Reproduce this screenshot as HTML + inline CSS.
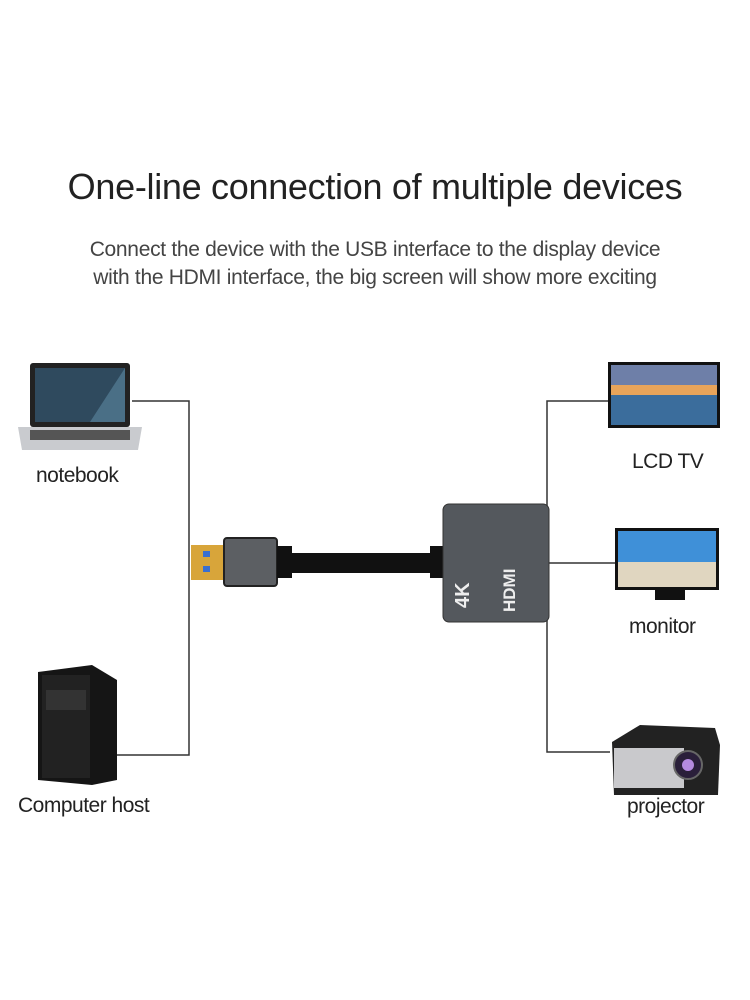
<!DOCTYPE html>
<html><head><style>
body{margin:0;width:750px;height:1000px;background:#fff;position:relative;font-family:"Liberation Sans",sans-serif;overflow:hidden}
.t{position:absolute;white-space:nowrap;color:#222}
.a{position:absolute}
</style></head><body>
<div class="t" style="left:0;width:750px;top:166px;text-align:center;font-size:36px;color:#222;letter-spacing:-0.3px">One-line connection of multiple devices</div>
<div class="t" style="left:0;width:750px;top:236px;text-align:center;font-size:21px;color:#444;line-height:28px;letter-spacing:-0.3px">Connect the device with the USB interface to the display device<br>with the HDMI interface, the big screen will show more exciting</div>

<svg class="a" style="left:0;top:0" width="750" height="1000">
<g stroke="#333" stroke-width="1.5" fill="none">
<polyline points="132,401 189,401 189,755 117,755"/>
<polyline points="608,401 547,401 547,752 610,752"/>
<line x1="547" y1="563" x2="618" y2="563"/>
</g>
<!-- laptop -->
<rect x="30" y="363" width="100" height="64" rx="3" fill="#222"/>
<rect x="35" y="368" width="90" height="54" fill="#4a6f86"/>
<polygon points="35,368 125,368 90,422 35,422" fill="#2f4a5e"/>
<polygon points="18,427 142,427 138,450 22,450" fill="#c9cbcf"/>
<rect x="30" y="430" width="100" height="10" fill="#555"/>
<!-- computer -->
<polygon points="38,672 92,665 117,680 117,780 92,785 38,780" fill="#151515"/>
<rect x="42" y="675" width="48" height="103" fill="#222"/>
<rect x="46" y="690" width="40" height="20" fill="#333"/>
<!-- USB -->
<rect x="191" y="545" width="35" height="35" fill="#d8a53a"/>
<rect x="203" y="551" width="7" height="6" fill="#3a6fd0"/>
<rect x="203" y="566" width="7" height="6" fill="#3a6fd0"/>
<rect x="224" y="538" width="53" height="48" rx="3" fill="#5c5f63" stroke="#222" stroke-width="2"/>
<rect x="277" y="546" width="15" height="32" fill="#111"/>
<rect x="290" y="553" width="140" height="20" fill="#111"/>
<rect x="430" y="546" width="15" height="32" fill="#111"/>
<!-- adapter -->
<rect x="443" y="504" width="106" height="118" rx="6" fill="#54585d" stroke="#333" stroke-width="1"/>
<text x="0" y="0" transform="translate(469,608) rotate(-90)" font-family="Liberation Sans" font-weight="bold" font-size="20" fill="#eee">4K</text>
<text x="0" y="0" transform="translate(515,612) rotate(-90)" font-family="Liberation Sans" font-weight="bold" font-size="17" fill="#eee">HDMI</text>
<!-- TV -->
<rect x="608" y="362" width="112" height="66" fill="#111"/>
<rect x="611" y="365" width="106" height="60" fill="#6e7fa8"/>
<rect x="611" y="393" width="106" height="32" fill="#3b6d9c"/>
<rect x="611" y="385" width="106" height="10" fill="#e8a45a"/>
<!-- monitor -->
<rect x="615" y="528" width="104" height="62" fill="#111"/>
<rect x="618" y="531" width="98" height="56" fill="#3f90d8"/>
<rect x="618" y="562" width="98" height="25" fill="#e0d6c0"/>
<rect x="655" y="590" width="30" height="10" fill="#111"/>
<!-- projector -->
<polygon points="612,742 640,725 715,728 720,745 718,795 614,795" fill="#222"/>
<rect x="614" y="748" width="70" height="40" fill="#c9c9cc"/>
<circle cx="688" cy="765" r="14" fill="#2a1f3a" stroke="#666" stroke-width="2"/>
<circle cx="688" cy="765" r="6" fill="#b48adf"/>
</svg>

<div class="t" style="left:36px;top:464px;font-size:21px;letter-spacing:-0.5px">notebook</div>
<div class="t" style="left:18px;top:794px;font-size:21px;letter-spacing:-0.5px">Computer host</div>
<div class="t" style="left:632px;top:450px;font-size:21px;letter-spacing:-0.5px">LCD TV</div>
<div class="t" style="left:629px;top:615px;font-size:21px;letter-spacing:-0.5px">monitor</div>
<div class="t" style="left:627px;top:795px;font-size:21px;letter-spacing:-0.5px">projector</div>
</body></html>
